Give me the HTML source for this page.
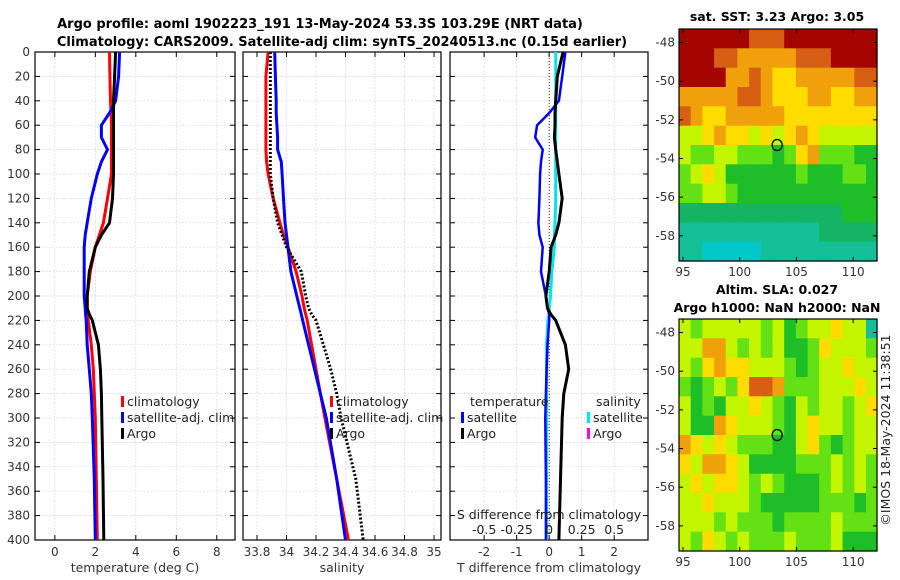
<!DOCTYPE html>
<html><head><meta charset="utf-8"><style>
body{margin:0;background:#fff;}
svg{display:block;font-family:"DejaVu Sans","Liberation Sans",sans-serif;}
</style></head><body>
<svg id="c" width="900" height="580" viewBox="0 0 900 580">
<text x="320" y="28" text-anchor="middle" font-size="13" font-weight="bold">Argo profile: aoml 1902223_191 13-May-2024 53.3S 103.29E (NRT data)</text>
<text x="342" y="46" text-anchor="middle" font-size="13" font-weight="bold">Climatology: CARS2009. Satellite-adj clim: synTS_20240513.nc (0.15d earlier)</text>
<text x="777" y="21" text-anchor="middle" font-size="12.5" font-weight="bold">sat. SST: 3.23 Argo: 3.05</text>
<text x="777" y="294" text-anchor="middle" font-size="12.5" font-weight="bold">Altim. SLA: 0.027</text>
<text x="777" y="312" text-anchor="middle" font-size="12.5" font-weight="bold">Argo h1000: NaN h2000: NaN</text>
<text transform="translate(890,430) rotate(-90)" text-anchor="middle" font-size="12.5" fill="#222">©IMOS 18-May-2024 11:38:51</text>
</svg>
<script>
const depths=[0,20,40,50,60,70,80,90,100,120,140,150,160,180,200,210,215,220,240,260,280,300,350,400];
const tempClim=[2.7,2.72,2.75,2.78,2.8,2.8,2.8,2.8,2.8,2.6,2.4,2.2,2.0,1.75,1.6,1.6,1.62,1.65,1.8,1.9,1.95,2.0,2.05,2.1];
const tempSat=[3.2,3.15,3.0,2.7,2.3,2.3,2.6,2.3,2.1,1.8,1.6,1.5,1.45,1.45,1.45,1.5,1.52,1.55,1.6,1.7,1.8,1.85,1.95,2.0];
const tempArgo=[3.0,2.95,2.9,2.9,2.9,2.9,2.9,2.9,2.9,2.85,2.7,2.3,2.0,1.7,1.6,1.6,1.7,1.85,2.15,2.25,2.3,2.32,2.38,2.42];
const salClim=[33.875,33.86,33.86,33.86,33.86,33.86,33.86,33.865,33.875,33.91,33.955,33.98,34.01,34.065,34.105,34.12,34.13,34.14,34.17,34.2,34.23,34.26,34.34,34.42];
const salSat=[33.92,33.925,33.93,33.93,33.935,33.94,33.94,33.965,33.97,33.98,33.99,34.0,34.01,34.03,34.07,34.09,34.1,34.11,34.15,34.19,34.23,34.27,34.34,34.40];
const salArgo=[33.89,33.89,33.89,33.89,33.89,33.89,33.89,33.89,33.89,33.91,33.94,33.97,34.0,34.1,34.13,34.15,34.17,34.2,34.25,34.3,34.34,34.37,34.47,34.52];
const tDiffSat=[0.5,0.4,0.3,0.0,-0.37,-0.43,-0.2,-0.25,-0.28,-0.3,-0.33,-0.3,-0.2,-0.25,-0.1,-0.05,0,0,-0.05,-0.08,-0.1,-0.12,-0.1,-0.1];
const tDiffArgo=[0.43,0.25,0.2,0.18,0.18,0.16,0.2,0.25,0.3,0.4,0.3,0.2,0.06,0.0,-0.1,-0.05,0.05,0.2,0.5,0.6,0.45,0.4,0.35,0.3];
const sDiffSat=[0.05,0.05,0.05,0.05,0.05,0.05,0.05,0.05,0.05,0.05,0.045,0.04,0.04,0.02,0.01,0.0,0,-0.01,-0.02,-0.02,-0.02,-0.02,-0.02,-0.02];
const depthTicks=[0,20,40,60,80,100,120,140,160,180,200,220,240,260,280,300,320,340,360,380,400];
const tempTicks=[0,2,4,6,8];
const salTicks=[33.8,34,34.2,34.4,34.6,34.8,35];
const tdTicks=[-2,-1,0,1,2];
const sdTicks=[-0.5,-0.25,0,0.25,0.5];
const sdTickLabels=["-0.5","-0.25","0","0.25","0.5"];
const latTicks=[-48,-50,-52,-54,-56,-58];
const lonTicks=[95,100,105,110];
const sstGrid=[
[10,10,10,10,10,10,9,9,9,10,10,10,10,10,10,10,10],
[10,10,10,9,9,8,8,8,8,8,9,9,9,10,10,10,10],
[10,10,10,10,8,8,9,8,7,7,8,8,8,8,8,9,9],
[8,8,8,8,8,9,9,8,7,7,7,8,8,7,7,8,8],
[9,8,7,7,8,8,8,8,8,7,7,7,7,7,7,7,7],
[6,6,7,8,7,7,6,7,6,7,8,7,6,6,6,6,6],
[6,5,5,6,6,5,5,5,4,5,7,8,5,5,5,4,4],
[5,6,7,6,4,4,4,4,4,4,5,4,4,4,5,5,4],
[5,5,6,6,5,4,4,4,4,4,4,4,4,4,4,4,4],
[3,3,3,3,3,3,3,3,3,3,3,3,3,3,4,4,4],
[2,2,2,2,2,2,2,2,2,2,2,2,3,3,3,3,3],
[2,2,1,1,1,1,1,2,2,2,2,2,2,2,2,2,2]];
const slaGrid=[
[6,5,6,6,6,6,6,5,6,4,5,6,6,7,6,6,2],
[6,6,8,8,6,5,6,5,6,4,4,5,7,6,6,6,5],
[6,5,7,8,7,7,6,6,6,5,4,5,6,6,7,6,6],
[5,4,5,6,5,7,9,9,8,5,5,5,6,6,6,7,6],
[6,4,5,4,6,6,7,6,5,4,6,5,6,6,5,6,7],
[6,4,4,8,7,6,6,6,5,4,6,7,6,6,5,6,6],
[8,7,6,7,6,5,5,5,4,4,6,7,5,4,5,6,6],
[7,6,8,8,7,6,4,4,4,4,5,5,5,6,5,6,5],
[6,7,6,7,7,6,5,6,5,4,4,4,5,6,5,6,5],
[6,6,7,6,6,6,5,4,4,4,4,4,5,5,5,4,5],
[6,6,6,5,6,5,5,5,4,5,5,5,5,6,5,5,5],
[6,5,7,6,5,6,5,5,5,6,5,5,5,6,4,4,4]];
const gridLon0=94.65, gridLat0=-47.3;
const argoPos=[103.3,-53.3];

const NS='http://www.w3.org/2000/svg';
const svg=document.getElementById('c');
function mk(t,a,p){const e=document.createElementNS(NS,t);for(const k in a)e.setAttribute(k,a[k]);(p||svg).appendChild(e);return e;}
const Y0=52,Y1=540;
const yD=d=>Y0+(d/400)*(Y1-Y0);
const p1={x0:35,x1:235,v0:-0.98,v1:8.9};
const p2={x0:243,x1:441,v0:33.8-14/147.5,v1:33.8+184/147.5};
const p3={x0:450,x1:648,v0:-3.05,v1:3.04};
function sx(p,v){return p.x0+(v-p.v0)/(p.v1-p.v0)*(p.x1-p.x0);}
const sd=v=>sx(p3,v*4);
const GRID='#d0d8ec';

function panel(p,ticks,labels,name,xlabel){
  const g=mk('g',{});
  
  
  ticks.forEach(t=>{const x=sx(p,t);mk('line',{x1:x,x2:x,y1:Y0,y2:Y1,stroke:GRID,'stroke-width':0.7,'stroke-dasharray':'2,1.5'},g);
    mk('line',{x1:x,x2:x,y1:Y1,y2:Y1-5,stroke:'#000'},g);mk('line',{x1:x,x2:x,y1:Y0,y2:Y0+5,stroke:'#000'},g);});
  ticks.forEach((t,i)=>{const tx=mk('text',{x:sx(p,t),y:556,'text-anchor':'middle','font-size':12,fill:'#333'},g);tx.textContent=labels[i];});
  depthTicks.forEach(d=>{const y=yD(d);mk('line',{x1:p.x0,x2:p.x1,y1:y,y2:y,stroke:GRID,'stroke-width':0.7,'stroke-dasharray':'2,1.5'},g);
    mk('line',{x1:p.x0,x2:p.x0+5,y1:y,y2:y,stroke:'#000'},g);mk('line',{x1:p.x1,x2:p.x1-5,y1:y,y2:y,stroke:'#000'},g);});
  mk('rect',{x:p.x0,y:Y0,width:p.x1-p.x0,height:Y1-Y0,fill:'none',stroke:'#000','stroke-width':1.2},g);
  const xl=mk('text',{x:(p.x0+p.x1)/2,y:572,'text-anchor':'middle','font-size':12.5,fill:'#333'},g);xl.textContent=xlabel;
  return g;
}
function line(g,vals,fx,color,w,dash,name){
  const pts=vals.map((v,i)=>fx(v).toFixed(1)+','+yD(depths[i]).toFixed(1)).join(' ');
  const a={points:pts,fill:'none',stroke:color,'stroke-width':w};if(dash)a['stroke-dasharray']=dash;
  const e=mk('polyline',a,g);
  
  
}
function legend(g,x,y,color,label,name){
  mk('rect',{x:x,y:y-10,width:3,height:11,fill:color},g);
  const t=mk('text',{x:x+6,y:y,'font-size':12.5,fill:'#222'},g);t.textContent=label;
  
  
}
depthTicks.forEach(d=>{const t=mk('text',{x:30,y:yD(d)+4,'text-anchor':'end','font-size':12,fill:'#333'});t.textContent=d;});

const g1=panel(p1,tempTicks,tempTicks.map(String),'temperature-panel','temperature (deg C)');
line(g1,tempClim,v=>sx(p1,v),'#ff0000',3,null,'temp-climatology-line');
line(g1,tempSat,v=>sx(p1,v),'#0000ff',3,null,'temp-satellite-line');
line(g1,tempArgo,v=>sx(p1,v),'#000',3,null,'temp-argo-line');
legend(g1,121,406,'#ff0000','climatology','legend-climatology');
legend(g1,121,422,'#0000ff','satellite-adj. clim','legend-satellite');
legend(g1,121,438,'#000','Argo','legend-argo');

const g2=panel(p2,salTicks,salTicks.map(String),'salinity-panel','salinity');
line(g2,salClim,v=>sx(p2,v),'#ff0000',3,null,'sal-climatology-line');
line(g2,salSat,v=>sx(p2,v),'#0000ff',3,null,'sal-satellite-line');
line(g2,salArgo,v=>sx(p2,v),'#000',3,'2,2','sal-argo-line');
legend(g2,330,406,'#ff0000','climatology','legend-sal-climatology');
legend(g2,330,422,'#0000ff','satellite-adj. clim','legend-sal-satellite');
legend(g2,330,438,'#000','Argo','legend-sal-argo');

const g3=panel(p3,tdTicks,tdTicks.map(String),'difference-panel','T difference from climatology');
mk('line',{x1:sx(p3,0),x2:sx(p3,0),y1:Y0,y2:Y1,stroke:'#000','stroke-width':0.8,'stroke-dasharray':'1,2'},g3);
line(g3,sDiffSat,sd,'#00e5ee',3,null,'sdiff-satellite-line');
line(g3,tDiffSat,v=>sx(p3,v),'#0000ff',2.5,null,'tdiff-satellite-line');
line(g3,tDiffArgo,v=>sx(p3,v),'#000',3,null,'tdiff-argo-line');
{const t=mk('text',{x:470,y:406,'font-size':12.5,fill:'#222'},g3);t.textContent='temperature';
 const s=mk('text',{x:596,y:406,'font-size':12.5,fill:'#222'},g3);s.textContent='salinity';}
legend(g3,461,422,'#0000ff','satellite','legend-t-satellite');
legend(g3,461,438,'#000','Argo','legend-t-argo');
legend(g3,587,422,'#00e5ee','satellite','legend-s-satellite');
legend(g3,587,438,'#ff00ff','Argo','legend-s-argo');
{const t=mk('text',{x:549,y:519,'text-anchor':'middle','font-size':12.5,fill:'#222'},g3);t.textContent='S difference from climatology';
 
 }
sdTicks.forEach((v,i)=>{const t=mk('text',{x:sd(v),y:534,'text-anchor':'middle','font-size':12.5,fill:'#222'},g3);t.textContent=sdTickLabels[i];});

const stops=[[0,[0,200,255]],[1,[0,200,200]],[2,[20,190,150]],[3,[20,180,100]],[4,[30,190,40]],[5,[100,225,20]],[6,[195,245,0]],[7,[255,220,0]],[8,[240,160,10]],[9,[215,95,20]],[10,[165,5,0]]];
function cmap(v){for(let i=0;i<stops.length-1;i++){const [a,ca]=stops[i],[b,cb]=stops[i+1];if(v<=b){const f=(v-a)/(b-a);return 'rgb('+ca.map((c,k)=>Math.round(c+(cb[k]-c)*f)).join(',')+')';}}return 'rgb(165,5,0)';}
function map(m,grid,name){
  const lx=lon=>m.x0+(lon-94.65)/(112.1-94.65)*(m.x1-m.x0);
  const ly=lat=>m.y0+(-47.3-lat)/(59.3-47.3)*(m.y1-m.y0);
  const g=mk('g',{});
  
  
  grid.forEach((row,r)=>row.forEach((v,c)=>{
    const x=lx(gridLon0+c*1.03),y=ly(gridLat0-r),x2=lx(gridLon0+(c+1)*1.03),y2=ly(gridLat0-r-1);
    const e=mk('rect',{x:x.toFixed(1),y:y.toFixed(1),width:(Math.min(x2,m.x1)-x+0.6).toFixed(1),height:(Math.min(y2,m.y1)-y+0.6).toFixed(1),fill:cmap(v)},g);
    
    
  }));
  mk('rect',{x:m.x0,y:m.y0,width:m.x1-m.x0,height:m.y1-m.y0,fill:'none',stroke:'#000','stroke-width':1.2},g);
  latTicks.forEach(l=>{const y=ly(l);mk('line',{x1:m.x1,x2:m.x1-4,y1:y,y2:y,stroke:'#000'},g);mk('line',{x1:m.x0,x2:m.x0+4,y1:y,y2:y,stroke:'#000'},g);
    const t=mk('text',{x:m.x0-4,y:y+4,'text-anchor':'end','font-size':12,fill:'#333'},g);t.textContent=l;});
  lonTicks.forEach(l=>{const x=lx(l);mk('line',{x1:x,x2:x,y1:m.y1,y2:m.y1-4,stroke:'#000'},g);mk('line',{x1:x,x2:x,y1:m.y0,y2:m.y0+4,stroke:'#000'},g);
    const t=mk('text',{x:x,y:m.y1+15,'text-anchor':'middle','font-size':12,fill:'#333'},g);t.textContent=l;});
  const c=mk('ellipse',{cx:lx(argoPos[0]),cy:ly(argoPos[1]),rx:5,ry:5.5,fill:'none',stroke:'#000','stroke-width':1.3},g);
  
  
}
map({x0:679,x1:877,y0:29,y1:261},sstGrid,'sst-map');
map({x0:679,x1:877,y0:319,y1:551},slaGrid,'sla-map');
</script>
</body></html>
